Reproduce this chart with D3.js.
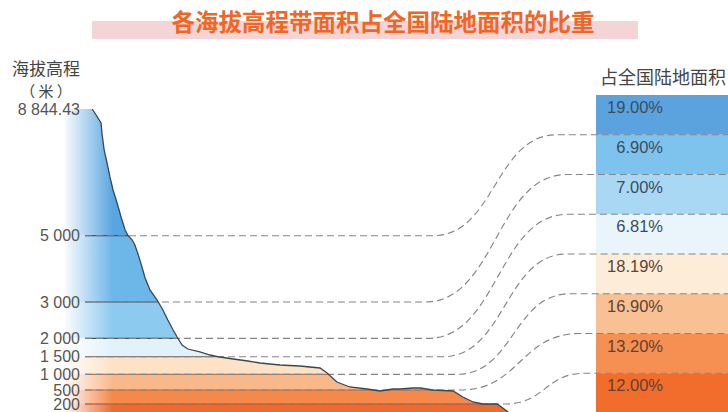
<!DOCTYPE html>
<html>
<head>
<meta charset="utf-8">
<script src="https://cdn.jsdelivr.net/npm/d3@7"></script>
<style>
  body { margin: 0; background: #fff; }
  svg { display: block; }
</style>
</head>
<body>
<svg id="chart" width="728" height="412"></svg>
<script>
// elevation tick levels (metres) and their labels
var elevLevels = [8844.43, 5000, 3000, 2000, 1500, 1000, 500, 200];
var elevLabels = ["8 844.43", "5 000", "3 000", "2 000", "1 500", "1 000", "500", "200"];

// share of national land area for each elevation band, top to bottom
var shareValues = [19.00, 6.90, 7.00, 6.81, 18.19, 16.90, 13.20, 12.00];
var shareLabels = ["19.00%", "6.90%", "7.00%", "6.81%", "18.19%", "16.90%", "13.20%", "12.00%"];

// terrain profile: relative distance (0-100) and elevation (m)
var profileDist = [0, 6.1, 6.7, 8.1, 8.3, 8.8, 9.4, 10.1, 10.8, 11.7, 12.6, 13.5, 14.2, 15.1, 15.7,
  16.4, 17.2, 18.0, 19.1, 20.7, 22.0, 23.1, 24.3, 25.2, 26.3, 27.6, 30.3, 32.6, 34.8, 37.8,
  41.1, 43.8, 48.3, 52.8, 57.3, 58.9, 61.1, 64.0, 67.9, 70.8, 73.7, 75.3, 78.2, 79.8, 82.7,
  87.2, 89.4, 91.7, 93.9, 97.1, 99.6];
var profileElev = [8844.43, 8844.43, 8723, 8419, 8116, 7600, 7236, 6782, 6387, 5992, 5567, 5173, 5000, 4870, 4720,
  4450, 4100, 3724, 3362, 3060, 2780, 2504, 2229, 2036, 1818, 1709, 1628, 1546, 1491, 1435,
  1378, 1321, 1264, 1236, 1179, 1037, 755, 596, 532, 479, 532, 532, 564, 564, 500,
  479, 350, 243, 200, 200, 0];

// colours
var areaColours = ["#58a6e1", "#6db6e8", "#8ccaef", "#e2f2fb", "#fde2c6", "#f9b889", "#f5894a", "#f06a2b"];
var barColours = ["#5aa3df", "#7ec2ee", "#a9d8f4", "#eaf5fb", "#fdecd8", "#f9c193", "#f68f52", "#f26c2c"];
var lineColours = ["#4d5358", "#4d5358", "#4d5358", "#8a7f78", "#c07245", "#c9602a", "#b8481c"];

var svg = d3.select("#chart");
var defs = svg.append("defs");

// elevation scale (the original drawing is not linear at the low end)
var y = d3.scaleLinear()
    .domain([0, 200, 500, 1000, 1500, 2000, 3000, 5000, 8844.43])
    .range([412, 404, 390, 374.3, 356.7, 338.3, 302, 235.7, 109]);

var x = d3.scaleLinear()
    .domain([0, 100])
    .range([65, 510]);

var profile = profileDist.map(function (d, i) { return [d, profileElev[i]]; });

// title with pink band
svg.append("rect")
    .attr("x", 92).attr("y", 21).attr("width", 546).attr("height", 18)
    .attr("fill", "#f3d5d7");
svg.append("text")
    .attr("x", 383).attr("y", 31)
    .attr("text-anchor", "middle")
    .attr("font-family", "Noto Sans CJK SC")
    .attr("font-weight", "bold")
    .attr("font-size", 23.5)
    .attr("fill", "#f26522")
    .text("各海拔高程带面积占全国陆地面积的比重");

// axis title
svg.append("text")
    .attr("x", 46).attr("y", 75)
    .attr("text-anchor", "middle")
    .attr("font-family", "Noto Sans CJK SC")
    .attr("font-size", 17)
    .attr("fill", "#444")
    .text("海拔高程");
svg.append("text")
    .attr("x", 46).attr("y", 97)
    .attr("text-anchor", "middle")
    .attr("font-family", "Noto Sans CJK SC")
    .attr("font-size", 15)
    .attr("fill", "#444")
    .text("（ 米 ）");

// clip to the terrain area
var area = d3.area()
    .x(function (d) { return x(d[0]); })
    .y0(y(0))
    .y1(function (d) { return y(d[1]); });

defs.append("clipPath").attr("id", "terrain-clip")
    .append("path").attr("d", area(profile));

// left white fade
var fade = defs.append("linearGradient").attr("id", "fade")
    .attr("x1", "0%").attr("x2", "100%").attr("y1", "0%").attr("y2", "0%");
fade.append("stop").attr("offset", "0%").attr("stop-color", "#fff").attr("stop-opacity", 0.95);
fade.append("stop").attr("offset", "100%").attr("stop-color", "#fff").attr("stop-opacity", 0);

var terrain = svg.append("g").attr("clip-path", "url(#terrain-clip)");

// elevation bands inside the terrain
var bandEdges = [8844.43].concat(elevLevels.slice(1), [0]);
terrain.selectAll("rect.band")
    .data(d3.range(bandEdges.length - 1))
    .enter().append("rect")
    .attr("class", "band")
    .attr("x", x(0))
    .attr("width", x(100) - x(0))
    .attr("y", function (i) { return y(bandEdges[i]); })
    .attr("height", function (i) { return y(bandEdges[i + 1]) - y(bandEdges[i]); })
    .attr("fill", function (i) { return areaColours[i]; });

terrain.append("rect")
    .attr("x", x(0)).attr("y", 0)
    .attr("width", 48).attr("height", 412)
    .attr("fill", "url(#fade)");

// right bars
var band = d3.scaleBand()
    .domain(shareLabels)
    .range([95, 413])
    .padding(0);

svg.append("text")
    .attr("x", 663).attr("y", 84)
    .attr("text-anchor", "middle")
    .attr("font-family", "Noto Sans CJK SC")
    .attr("font-size", 18)
    .attr("fill", "#444")
    .text("占全国陆地面积");

svg.selectAll("rect.bar")
    .data(shareValues)
    .enter().append("rect")
    .attr("class", "bar")
    .attr("x", 596)
    .attr("width", 132)
    .attr("y", function (d, i) { return band(shareLabels[i]); })
    .attr("height", band.bandwidth())
    .attr("fill", function (d, i) { return barColours[i]; });

svg.selectAll("text.share")
    .data(shareValues)
    .enter().append("text")
    .attr("class", "share")
    .attr("x", 663)
    .attr("y", function (d, i) { return band(shareLabels[i]) + 18; })
    .attr("text-anchor", "end")
    .attr("font-family", "Liberation Sans, Arial, sans-serif")
    .attr("font-size", 16.5)
    .attr("fill", function (d, i) { return i < 4 ? "#3a4c5e" : "#5e4232"; })
    .text(function (d) { return d.toFixed(2) + "%"; });

// dashed connectors from each elevation line to its bar boundary
var curveStart = [433, 425, 428, 443, 457, 460, 505];
var curveEnd = [557, 567, 568, 567, 570, 580, 585];
var link = d3.linkHorizontal();

function connector(level, i) {
    var yL = y(level);
    var yR = band(shareLabels[i + 1]);
    var p = link({ source: [curveStart[i], yL], target: [curveEnd[i], yR] });
    return "M85," + yL + "H" + curveStart[i] + p.replace(/^M[^C]*/, "") + "H728";
}

svg.append("g").selectAll("path")
    .data(elevLevels.slice(1))
    .enter().append("path")
    .attr("d", connector)
    .attr("fill", "none")
    .attr("stroke", "#858585")
    .attr("stroke-width", 1.15)
    .attr("stroke-dasharray", "7,4");

// solid lines inside the terrain
terrain.selectAll("line.level")
    .data(elevLevels.slice(1))
    .enter().append("line")
    .attr("class", "level")
    .attr("x1", 85).attr("x2", x(100))
    .attr("y1", function (d) { return y(d); })
    .attr("y2", function (d) { return y(d); })
    .attr("stroke", function (d, i) { return lineColours[i]; })
    .attr("stroke-width", 1.2);

// profile outline
svg.append("path")
    .attr("d", d3.line()
        .x(function (d) { return x(d[0]); })
        .y(function (d) { return y(d[1]); })(profile.slice(1)))
    .attr("fill", "none")
    .attr("stroke", "#3d474e")
    .attr("stroke-width", 1.3);

// tick labels
svg.append("g")
    .attr("transform", "translate(83,0)")
    .call(d3.axisLeft(y)
        .tickValues(elevLevels)
        .tickSize(0)
        .tickPadding(3)
        .tickFormat(function (d, i) { return elevLabels[i]; }))
    .call(function (g) { g.select(".domain").remove(); })
    .selectAll("text")
    .attr("font-family", "Liberation Sans, Arial, sans-serif")
    .attr("font-size", 16)
    .attr("fill", "#555");
</script>
</body>
</html>
